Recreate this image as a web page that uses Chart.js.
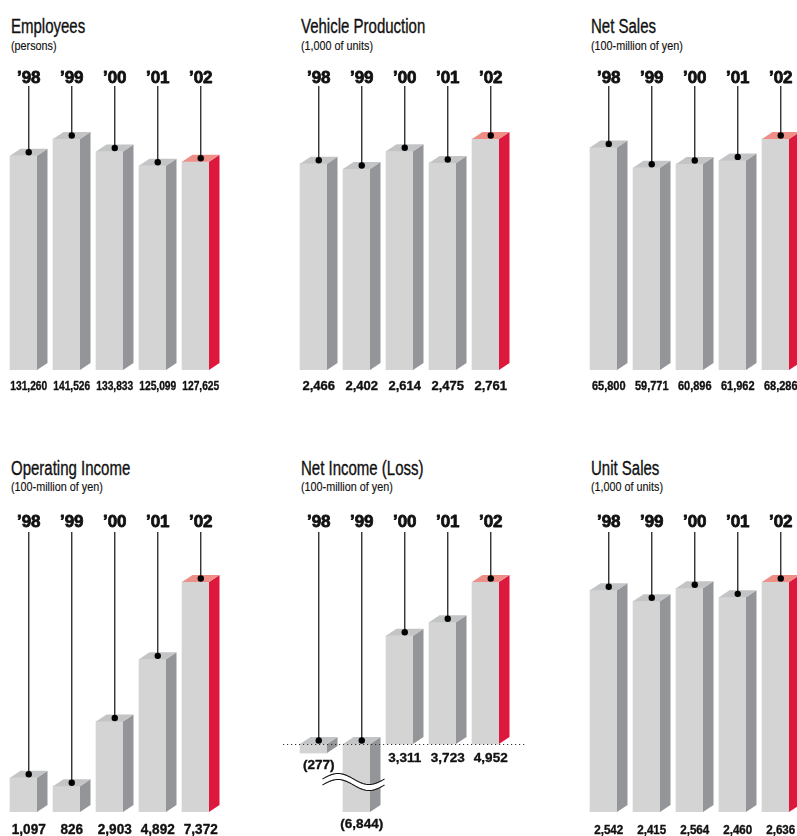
<!DOCTYPE html>
<html>
<head>
<meta charset="utf-8">
<script src="https://cdn.jsdelivr.net/npm/chart.js@4.4.1/dist/chart.umd.min.js"></script>
<style>
  html, body { margin: 0; padding: 0; background: #fff; }
  body { position: relative; width: 797px; height: 836px; overflow: hidden;
         font-family: "Liberation Sans", Arial, Helvetica, sans-serif; color: #111; }
  canvas { position: absolute; }
  .ttl, .unit { position: absolute; white-space: nowrap; transform-origin: 0 0; line-height: 1; }
  .ttl { font-size: 20px; transform: scaleX(0.75); -webkit-text-stroke: 0.35px #111; }
  .unit { font-size: 13px; transform: scaleX(0.83); -webkit-text-stroke: 0.15px #111; }
</style>
</head>
<body>
<script>
// ---- data ----
const years = ['\u201998', '\u201999', '\u201900', '\u201901', '\u201902'];

const employees         = [131260, 141526, 133833, 125099, 127625];
const vehicleProduction = [2466, 2402, 2614, 2475, 2761];
const netSales          = [65800, 59771, 60896, 61962, 68286];
const operatingIncome   = [1097, 826, 2903, 4892, 7372];
const netIncome         = [-277, -6844, 3311, 3723, 4952];
const unitSales         = [2542, 2415, 2564, 2460, 2636];

const panels = [
  { title: 'Employees',          unit: '(persons)',            values: employees,         col: 0, row: 0, valueFont: 12.5, valueSquash: 0.82 },
  { title: 'Vehicle Production', unit: '(1,000 of units)',     values: vehicleProduction, col: 1, row: 0, valueFont: 13,   valueSquash: 1 },
  { title: 'Net Sales',          unit: '(100-million of yen)', values: netSales,          col: 2, row: 0, valueFont: 12.5, valueSquash: 0.88 },
  { title: 'Operating Income',   unit: '(100-million of yen)', values: operatingIncome,   col: 0, row: 1, valueFont: 14,   valueSquash: 0.97 },
  { title: 'Net Income (Loss)',  unit: '(100-million of yen)', values: netIncome,         col: 1, row: 1, valueFont: 13.5, valueSquash: 1, broken: true },
  { title: 'Unit Sales',         unit: '(1,000 of units)',     values: unitSales,         col: 2, row: 1, valueFont: 12.5, valueSquash: 0.93 }
];

// ---- layout & style ----
const COLS = [
  { left: 0,   width: 280, padLeft: 2 },
  { left: 280, width: 290, padLeft: 12 },
  { left: 570, width: 227, padLeft: 12 }
];
const ROWS = [
  { top: 0,   height: 400, titleTop: 16, unitTop: 39, yearBase: 82.5, lineTop: 86, areaTop: 90, areaBottom: 370, tallest: 231, valueGap: 20 },
  { top: 443, height: 393, titleTop: 15, unitTop: 37, yearBase: 84,   lineTop: 89, areaTop: 92, areaBottom: 369, tallest: 230, valueGap: 22 }
];
const PLOT_WIDTH = 215;
const BAR_WIDTH = 27;
const DEPTH_X = 10.5, DEPTH_Y = 7;

const FRONT = '#d4d4d4';
const SIDE = '#939598';
const TOP = '#c3c4c6';
const ACCENT_SIDE = '#de173d';
const ACCENT_TOP = '#ee8f87';
const INK = '#111';

// Net Income: zero line sits above the plot bottom, negative bar is cut off
const BROKEN_ZERO = 301;
const BROKEN_TALLEST = 162;

function fmt(v) {
  const s = Math.abs(v).toLocaleString('en-US');
  return v < 0 ? '(' + s + ')' : s;
}

function heavyText(ctx, text, x, y, size, squash, stroke) {
  ctx.save();
  ctx.translate(x, y);
  ctx.scale(squash, 1);
  ctx.font = 'bold ' + size + 'px "Liberation Sans", Arial, sans-serif';
  ctx.textAlign = 'center';
  ctx.textBaseline = 'alphabetic';
  ctx.fillStyle = INK;
  ctx.fillText(text, 0, 0);
  if (stroke) {
    ctx.strokeStyle = INK;
    ctx.lineWidth = stroke;
    ctx.lineJoin = 'round';
    ctx.strokeText(text, 0, 0);
  }
  ctx.restore();
}

// side and top faces of each column
const prismFaces = {
  id: 'prismFaces',
  afterDatasetsDraw(chart) {
    const { ctx, chartArea } = chart;
    const meta = chart.getDatasetMeta(0);
    const n = meta.data.length;
    ctx.save();
    ctx.beginPath();
    ctx.rect(0, 0, chart.width, chartArea.bottom);
    ctx.clip();
    meta.data.forEach((bar, i) => {
      const p = bar.getProps(['x', 'y', 'base', 'width'], true);
      const l = p.x - p.width / 2, r = p.x + p.width / 2;
      const top = Math.min(p.y, p.base);
      const bot = Math.min(Math.max(p.y, p.base), chartArea.bottom);
      const accent = i === n - 1;
      ctx.fillStyle = accent ? ACCENT_SIDE : SIDE;
      ctx.beginPath();
      ctx.moveTo(r, top);
      ctx.lineTo(r + DEPTH_X, top - DEPTH_Y);
      ctx.lineTo(r + DEPTH_X, bot - DEPTH_Y);
      ctx.lineTo(r, bot);
      ctx.closePath();
      ctx.fill();
      ctx.fillStyle = accent ? ACCENT_TOP : TOP;
      ctx.beginPath();
      ctx.moveTo(l, top);
      ctx.lineTo(l + DEPTH_X, top - DEPTH_Y);
      ctx.lineTo(r + DEPTH_X, top - DEPTH_Y);
      ctx.lineTo(r, top);
      ctx.closePath();
      ctx.fill();
    });
    ctx.restore();
  }
};

// leader lines, year labels, value labels, zero line and break mark
const annotations = {
  id: 'annotations',
  afterDraw(chart, args, opts) {
    const { ctx, chartArea } = chart;
    const row = opts.row;
    const meta = chart.getDatasetMeta(0);
    const zero = chart.scales.y.getPixelForValue(0);
    const values = chart.data.datasets[0].data;
    ctx.save();

    if (opts.broken) {
      // dotted zero line
      ctx.strokeStyle = '#333';
      ctx.lineWidth = 1.2;
      ctx.setLineDash([1.2, 2.8]);
      ctx.beginPath();
      ctx.moveTo(3, zero + 0.5);
      ctx.lineTo(245, zero + 0.5);
      ctx.stroke();
      ctx.setLineDash([]);
      // break mark across the truncated bar
      const idx = values.findIndex(v => v < 0 && chart.scales.y.getPixelForValue(v) > chartArea.bottom);
      if (idx >= 0) {
        const b = meta.data[idx];
        const x0 = b.x - 34, x1 = b.x + 28;
        const cy = 339, amp = 5.5, gap = 6;
        const wave = (t) => -amp * Math.sin(2 * Math.PI * t);
        const N = 40;
        ctx.beginPath();
        for (let k = 0; k <= N; k++) {
          const t = k / N;
          const x = x0 + (x1 - x0) * t;
          const y = cy - gap / 2 + wave(t);
          k ? ctx.lineTo(x, y) : ctx.moveTo(x, y);
        }
        for (let k = N; k >= 0; k--) {
          const t = k / N;
          ctx.lineTo(x0 + (x1 - x0) * t, cy + gap / 2 + wave(t));
        }
        ctx.closePath();
        ctx.fillStyle = '#fff';
        ctx.fill();
        ctx.strokeStyle = '#111';
        ctx.lineWidth = 1.1;
        for (const off of [-gap / 2, gap / 2]) {
          ctx.beginPath();
          for (let k = 0; k <= N; k++) {
            const t = k / N;
            const x = x0 + (x1 - x0) * t;
            const y = cy + off + wave(t);
            k ? ctx.lineTo(x, y) : ctx.moveTo(x, y);
          }
          ctx.stroke();
        }
      }
    }

    meta.data.forEach((bar, i) => {
      const p = bar.getProps(['x', 'y', 'base'], true);
      const cx = p.x + DEPTH_X / 2;
      const top = Math.min(p.y, p.base);
      const bot = Math.min(Math.max(p.y, p.base), chartArea.bottom);
      const dotY = top - DEPTH_Y / 2;

      // leader line + dot
      ctx.strokeStyle = '#222';
      ctx.lineWidth = 1.3;
      ctx.beginPath();
      ctx.moveTo(cx, row.lineTop);
      ctx.lineTo(cx, dotY);
      ctx.stroke();
      ctx.fillStyle = '#000';
      ctx.beginPath();
      ctx.arc(cx, dotY, 3.2, 0, Math.PI * 2);
      ctx.fill();

      // year
      heavyText(ctx, chart.data.labels[i], cx, row.yearBase, 17, 1, 0.8);

      // value
      const v = values[i];
      let base;
      if (opts.broken) base = v >= 0 ? zero + 18 : bot + 16;
      else base = zero + row.valueGap;
      heavyText(ctx, fmt(v), cx, base, opts.valueFont, opts.valueSquash, 0.35);
    });
    ctx.restore();
  }
};

panels.forEach((pn) => {
  const col = COLS[pn.col], row = ROWS[pn.row];

  const t = document.createElement('div');
  t.className = 'ttl';
  t.textContent = pn.title;
  t.style.left = (col.left + col.padLeft + 8.5) + 'px';
  t.style.top = (row.top + row.titleTop) + 'px';
  document.body.appendChild(t);

  const u = document.createElement('div');
  u.className = 'unit';
  u.textContent = pn.unit;
  u.style.left = (col.left + col.padLeft + 8.5) + 'px';
  u.style.top = (row.top + row.unitTop) + 'px';
  document.body.appendChild(u);

  const cv = document.createElement('canvas');
  cv.width = col.width;
  cv.height = row.height;
  cv.style.left = col.left + 'px';
  cv.style.top = row.top + 'px';
  document.body.appendChild(cv);

  const maxVal = Math.max(...pn.values);
  const zeroPx = pn.broken ? BROKEN_ZERO : row.areaBottom;
  const perPx = maxVal / (pn.broken ? BROKEN_TALLEST : row.tallest);
  const yMax = perPx * (zeroPx - row.areaTop);
  const yMin = -perPx * (row.areaBottom - zeroPx);

  new Chart(cv, {
    type: 'bar',
    data: {
      labels: years,
      datasets: [{
        data: pn.values,
        backgroundColor: FRONT,
        borderWidth: 0,
        barThickness: BAR_WIDTH
      }]
    },
    options: {
      responsive: false,
      animation: false,
      events: [],
      layout: {
        padding: {
          left: col.padLeft,
          right: col.width - col.padLeft - PLOT_WIDTH,
          top: row.areaTop,
          bottom: row.height - row.areaBottom
        }
      },
      plugins: {
        legend: { display: false },
        tooltip: { enabled: false },
        annotations: { row: row, broken: !!pn.broken, valueFont: pn.valueFont, valueSquash: pn.valueSquash }
      },
      scales: {
        x: { display: false, offset: true },
        y: { display: false, min: yMin, max: yMax }
      }
    },
    plugins: [prismFaces, annotations]
  });
});
</script>
</body>
</html>
